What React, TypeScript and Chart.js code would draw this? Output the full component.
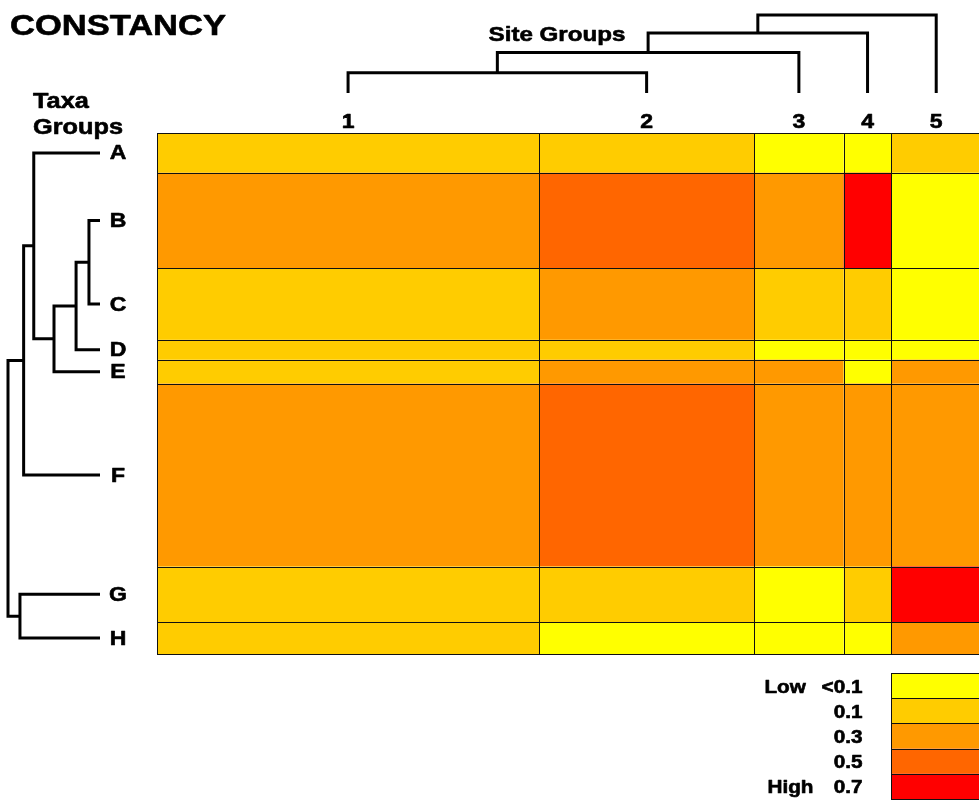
import React, { useEffect, useRef } from "react";
import { Chart, registerables } from "chart.js";

Chart.register(...registerables);

// Site groups (columns) and their sizes, which set the column widths
const siteGroups = ["1", "2", "3", "4", "5"];
const siteGroupSizes = [64, 36, 15, 8, 15];

// Taxa groups (rows) and their sizes, which set the row heights
const taxaGroups = ["A", "B", "C", "D", "E", "F", "G", "H"];
const taxaGroupSizes = [10, 24, 18, 5, 6, 46, 14, 8];

// Constancy class of each taxa group in each site group
// (0 = <0.1, 1 = 0.1, 2 = 0.3, 3 = 0.5, 4 = 0.7)
const rowA = [1, 1, 0, 0, 1];
const rowB = [2, 3, 2, 4, 0];
const rowC = [1, 2, 1, 1, 0];
const rowD = [1, 1, 0, 0, 0];
const rowE = [1, 2, 2, 0, 2];
const rowF = [2, 3, 2, 2, 2];
const rowG = [1, 1, 0, 1, 4];
const rowH = [1, 0, 0, 0, 2];
const constancy = [rowA, rowB, rowC, rowD, rowE, rowF, rowG, rowH];

// Legend classes
const classLabels = ["<0.1", "0.1", "0.3", "0.5", "0.7"];
const classColors = ["#FFFF00", "#FFCC00", "#FF9900", "#FF6600", "#FF0000"];

// Dendrogram joins: [node, node, height]; leaves are 0..n-1, each join adds a node n, n+1, ...
const siteJoins: [number, number, number][] = [
  [0, 1, 0.26],
  [5, 2, 0.52],
  [6, 3, 0.77],
  [7, 4, 1.0],
];
const taxaJoins: [number, number, number][] = [
  [1, 2, 0.12],
  [8, 3, 0.26],
  [9, 4, 0.5],
  [0, 10, 0.72],
  [11, 5, 0.83],
  [6, 7, 0.87],
  [12, 13, 1.0],
];

const FONT = '"Liberation Sans", Arial, Helvetica, sans-serif';
const TEXT_STRETCH = 1.15;
const CANVAS_W = 984;
const CANVAS_H = 803;

const cumulative = (arr: number[]) => {
  const out = [0];
  arr.forEach((v) => out.push(out[out.length - 1] + v));
  return out;
};

// Bold label, slightly widened and thickened
function label(
  ctx: CanvasRenderingContext2D,
  text: string,
  x: number,
  y: number,
  size: number,
  align: CanvasTextAlign,
  baseline: CanvasTextBaseline = "alphabetic"
) {
  ctx.save();
  ctx.translate(x, y);
  ctx.scale(TEXT_STRETCH, 1);
  ctx.font = `bold ${size}px ${FONT}`;
  ctx.textAlign = align;
  ctx.textBaseline = baseline;
  ctx.fillStyle = "#000";
  ctx.strokeStyle = "#000";
  ctx.lineWidth = 0.6;
  ctx.lineJoin = "round";
  ctx.fillText(text, 0, 0);
  ctx.strokeText(text, 0, 0);
  ctx.restore();
}

function drawDendrogram(
  ctx: CanvasRenderingContext2D,
  leafPos: number[],
  joins: [number, number, number][],
  toPerp: (h: number) => number,
  horizontal: boolean
) {
  const pos = leafPos.slice();
  const hts = leafPos.map(() => 0);
  const pt = (along: number, perp: number): [number, number] =>
    horizontal ? [along, perp] : [perp, along];
  ctx.save();
  ctx.strokeStyle = "#000";
  ctx.lineWidth = 3;
  ctx.lineJoin = "miter";
  ctx.lineCap = "butt";
  joins.forEach(([a, b, h]) => {
    const p = [
      pt(pos[a], toPerp(hts[a])),
      pt(pos[a], toPerp(h)),
      pt(pos[b], toPerp(h)),
      pt(pos[b], toPerp(hts[b])),
    ];
    ctx.beginPath();
    ctx.moveTo(p[0][0], p[0][1]);
    for (let i = 1; i < 4; i++) ctx.lineTo(p[i][0], p[i][1]);
    ctx.stroke();
    pos.push((pos[a] + pos[b]) / 2);
    hts.push(h);
  });
  ctx.restore();
}

const heatmapPlugin = {
  id: "constancyHeatmap",
  afterDraw(chart: any) {
    const { ctx, chartArea } = chart;
    const xs = chart.scales.x;
    const ys = chart.scales.y;
    const cx = cumulative(siteGroupSizes);
    const cy = cumulative(taxaGroupSizes);
    const colEdges = cx.map((v) => xs.getPixelForValue(v));
    const rowEdges = cy.map((v) => ys.getPixelForValue(v));
    const colCenters = siteGroupSizes.map((_, i) => (colEdges[i] + colEdges[i + 1]) / 2);
    const rowCenters = taxaGroupSizes.map((_, i) => (rowEdges[i] + rowEdges[i + 1]) / 2);

    ctx.save();
    ctx.fillStyle = "#ffffff";
    ctx.fillRect(0, 0, chart.width, chart.height);

    // cells
    constancy.forEach((row, r) => {
      row.forEach((cls, c) => {
        ctx.fillStyle = classColors[cls];
        ctx.fillRect(colEdges[c], rowEdges[r], colEdges[c + 1] - colEdges[c], rowEdges[r + 1] - rowEdges[r]);
      });
    });
    // cell borders
    ctx.strokeStyle = "#111";
    ctx.lineWidth = 1;
    constancy.forEach((row, r) => {
      row.forEach((_, c) => {
        const x0 = Math.round(colEdges[c]) + 0.5;
        const x1 = Math.round(colEdges[c + 1]) + 0.5;
        const y0 = Math.round(rowEdges[r]) + 0.5;
        const y1 = Math.round(rowEdges[r + 1]) + 0.5;
        ctx.strokeRect(x0, y0, x1 - x0, y1 - y0);
      });
    });

    // titles
    label(ctx, "CONSTANCY", 10, 35, 30, "left");
    label(ctx, "Site Groups", 557, 41, 21, "center");
    label(ctx, "Taxa", 33, 108, 22, "left");
    label(ctx, "Groups", 33, 134, 22, "left");

    // group labels
    siteGroups.forEach((g, i) => label(ctx, g, colCenters[i], chartArea.top - 5, 20, "center"));
    taxaGroups.forEach((g, i) => label(ctx, g, chartArea.left - 39, rowCenters[i] + 1, 20, "center", "middle"));

    // dendrograms
    const topBase = chartArea.top - 40;
    drawDendrogram(ctx, colCenters, siteJoins, (h) => topBase - h * 78, true);
    const leftBase = chartArea.left - 57;
    drawDendrogram(ctx, rowCenters, taxaJoins, (h) => leftBase - h * 92, false);

    // legend
    const lx0 = colEdges[4];
    const lx1 = colEdges[5];
    const ly0 = chartArea.bottom + 19;
    const lh = 25.2;
    classColors.forEach((col, i) => {
      ctx.fillStyle = col;
      ctx.fillRect(lx0, ly0 + i * lh, lx1 - lx0, lh);
    });
    ctx.strokeStyle = "#111";
    ctx.lineWidth = 1;
    classColors.forEach((_, i) => {
      const y0 = Math.round(ly0 + i * lh) + 0.5;
      const y1 = Math.round(ly0 + (i + 1) * lh) + 0.5;
      ctx.strokeRect(Math.round(lx0) + 0.5, y0, Math.round(lx1) - Math.round(lx0), y1 - y0);
    });
    classLabels.forEach((lab, i) => label(ctx, lab, lx0 - 29, ly0 + (i + 0.5) * lh + 2, 18, "right", "middle"));
    label(ctx, "Low", lx0 - 127, ly0 + 0.5 * lh + 2, 18, "left", "middle");
    label(ctx, "High", lx0 - 124, ly0 + 4.5 * lh + 2, 18, "left", "middle");
    ctx.restore();
  },
};

export default function App() {
  const canvasRef = useRef<HTMLCanvasElement | null>(null);

  useEffect(() => {
    const canvas = canvasRef.current;
    if (!canvas) return;
    const chart = new Chart(canvas, {
      type: "scatter",
      data: { datasets: [] },
      options: {
        responsive: false,
        animation: false,
        devicePixelRatio: 1,
        events: [],
        layout: { padding: { left: 157, top: 133, right: CANVAS_W - 981, bottom: CANVAS_H - 654 } },
        plugins: { legend: { display: false }, tooltip: { enabled: false } },
        scales: {
          x: {
            type: "linear",
            display: false,
            min: 0,
            max: siteGroupSizes.reduce((a, b) => a + b, 0),
          },
          y: {
            type: "linear",
            display: false,
            reverse: true,
            min: 0,
            max: taxaGroupSizes.reduce((a, b) => a + b, 0),
          },
        },
      },
      plugins: [heatmapPlugin],
    });
    return () => chart.destroy();
  }, []);

  return (
    <div
      style={{
        position: "fixed",
        left: 0,
        top: 0,
        width: 979,
        height: 803,
        overflow: "hidden",
        background: "#fff",
      }}
    >
      <canvas
        ref={canvasRef}
        width={CANVAS_W}
        height={CANVAS_H}
        style={{ display: "block", width: CANVAS_W, height: CANVAS_H }}
      />
    </div>
  );
}
